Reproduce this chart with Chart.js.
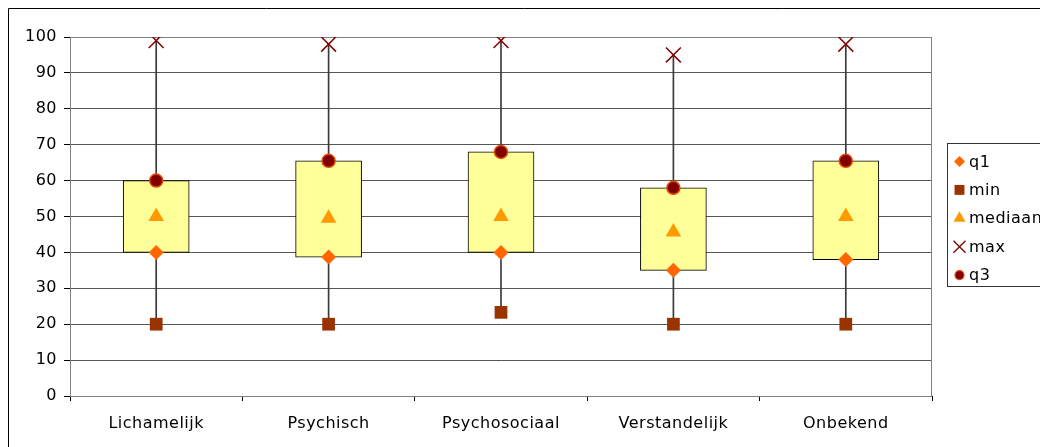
<!DOCTYPE html>
<html>
<head>
<meta charset="utf-8">
<script src="https://cdn.jsdelivr.net/npm/chart.js@4/dist/chart.umd.min.js"></script>
<style>
  html, body { margin: 0; padding: 0; background: #fff; overflow: hidden; }
  #wrap { position: relative; width: 1040px; height: 447px; }
</style>
</head>
<body>
<div id="wrap"><canvas id="c" width="1040" height="447"></canvas></div>
<script>
const categories = ['Lichamelijk', 'Psychisch', 'Psychosociaal', 'Verstandelijk', 'Onbekend'];
const q1Values = [40, 38.7, 40, 35, 38];
const minValues = [20, 20, 23.3, 20, 20];
const medianValues = [50, 49.5, 50, 45.7, 50];
const maxValues = [99, 98, 99, 95, 98];
const q3Values = [60, 65.5, 68, 58, 65.5];
const yTicks = [0, 10, 20, 30, 40, 50, 60, 70, 80, 90, 100];

const boxRanges = categories.map((_, i) => [q1Values[i], q3Values[i]]);
const whiskerRanges = categories.map((_, i) => [minValues[i], maxValues[i]]);

Chart.defaults.font.family = "'DejaVu Sans', Verdana, sans-serif";
Chart.defaults.font.size = 16;
Chart.defaults.color = '#000';

const legendItems = [
  { label: 'q1', style: 'rectRot', radius: 5.5, fill: '#FF6600', stroke: '#FF6600', bw: 0 },
  { label: 'min', style: 'rect', radius: 7, fill: '#993300', stroke: '#993300', bw: 0 },
  { label: 'mediaan', style: 'triangle', radius: 7, fill: '#FF9900', stroke: '#FF9900', bw: 0 },
  { label: 'max', style: 'crossRot', radius: 8.5, fill: '#800000', stroke: '#800000', bw: 1.3 },
  { label: 'q3', style: 'circle', radius: 4.5, fill: '#800000', stroke: '#E04A00', bw: 1.2 }
];

function drawMarker(ctx, it, x, y) {
  ctx.save();
  ctx.fillStyle = it.fill;
  ctx.strokeStyle = it.stroke;
  ctx.lineWidth = it.bw || 1;
  if (Chart.helpers && Chart.helpers.drawPoint) {
    Chart.helpers.drawPoint(ctx, { pointStyle: it.style, radius: it.radius, rotation: 0, borderWidth: it.bw }, x, y);
  } else {
    ctx.beginPath();
    ctx.arc(x, y, it.radius, 0, Math.PI * 2);
    ctx.fill();
  }
  ctx.restore();
}

const spacingPlugin = {
  id: 'spacing',
  beforeUpdate(chart) { chart.ctx.letterSpacing = '0.5px'; },
  beforeLayout(chart) { chart.ctx.letterSpacing = '0.5px'; },
  beforeDraw(chart) { chart.ctx.letterSpacing = '0.5px'; }
};

const framePlugin = {
  id: 'frames',
  beforeDatasetsDraw(chart) {
    const { ctx, chartArea: a } = chart;
    ctx.save();
    ctx.strokeStyle = '#808080';
    ctx.lineWidth = 1;
    ctx.strokeRect(Math.round(a.left) + 0.5, Math.round(a.top) + 0.5, Math.round(a.right - a.left) - 1, Math.round(a.bottom - a.top));
    ctx.restore();
  },
  afterDraw(chart) {
    const ctx = chart.ctx;
    ctx.save();
    ctx.strokeStyle = '#000';
    ctx.lineWidth = 1;
    ctx.beginPath();
    ctx.moveTo(8.5, 460);
    ctx.lineTo(8.5, 8.5);
    ctx.lineTo(1060, 8.5);
    ctx.stroke();
    ctx.strokeStyle = '#333';
    ctx.strokeRect(947.5, 143.5, 200, 143);
    ctx.font = "16px 'DejaVu Sans', Verdana, sans-serif";
    ctx.textBaseline = 'middle';
    ctx.textAlign = 'left';
    legendItems.forEach((it, i) => {
      const y = 161.5 + i * 28.4;
      drawMarker(ctx, it, 959.5, y);
      ctx.fillStyle = '#000';
      ctx.fillText(it.label, 969, y + 1);
    });
    ctx.restore();
  }
};

new Chart(document.getElementById('c'), {
  data: {
    labels: categories,
    datasets: [
      { type: 'bar', label: 'whisker', data: whiskerRanges, backgroundColor: '#3a3a3a', barThickness: 1, grouped: false, order: 10 },
      { type: 'bar', label: 'box', data: boxRanges, backgroundColor: '#FFFF99', borderColor: '#000', borderWidth: 1, borderSkipped: false, barThickness: 66, grouped: false, order: 9 },
      { type: 'line', label: 'q1', data: q1Values, showLine: false, pointStyle: 'rectRot', pointRadius: 7.5, pointBackgroundColor: '#FF6600', pointBorderColor: '#FF6600', pointBorderWidth: 0, order: 5 },
      { type: 'line', label: 'min', data: minValues, showLine: false, pointStyle: 'rect', pointRadius: 9, pointBackgroundColor: '#993300', pointBorderColor: '#993300', pointBorderWidth: 0, order: 4 },
      { type: 'line', label: 'mediaan', data: medianValues, showLine: false, pointStyle: 'triangle', pointRadius: 9, pointBackgroundColor: '#FF9900', pointBorderColor: '#FF9900', pointBorderWidth: 0, order: 3 },
      { type: 'line', label: 'max', data: maxValues, showLine: false, pointStyle: 'crossRot', pointRadius: 10.5, pointBackgroundColor: '#800000', pointBorderColor: '#800000', pointBorderWidth: 1.5, order: 2 },
      { type: 'line', label: 'q3', data: q3Values, showLine: false, pointStyle: 'circle', pointRadius: 6.5, pointBackgroundColor: '#800000', pointBorderColor: '#E04A00', pointBorderWidth: 1.5, order: 1 }
    ]
  },
  options: {
    responsive: false,
    animation: false,
    maintainAspectRatio: false,
    layout: { padding: { left: 8, top: 37, right: 108, bottom: 0 } },
    plugins: { legend: { display: false }, tooltip: { enabled: false } },
    scales: {
      x: {
        type: 'category',
        offset: true,
        grid: { display: true, drawOnChartArea: false, offset: true, tickLength: 5, color: '#000', tickColor: '#000' },
        border: { display: true, color: '#000', width: 1 },
        ticks: { padding: 13, maxRotation: 0, autoSkip: false, color: '#000' },
        afterFit(s) { s.height = 51; }
      },
      y: {
        min: 0, max: 100,
        afterBuildTicks(s) { s.ticks = yTicks.map(v => ({ value: v })); },
        grid: { color: '#555', tickLength: 6, tickColor: '#000', lineWidth: 1 },
        border: { display: true, color: '#000', width: 1 },
        ticks: { padding: 7, color: '#000' },
        afterFit(s) { s.width = 62; }
      }
    }
  },
  plugins: [spacingPlugin, framePlugin]
});
</script>
</body>
</html>
